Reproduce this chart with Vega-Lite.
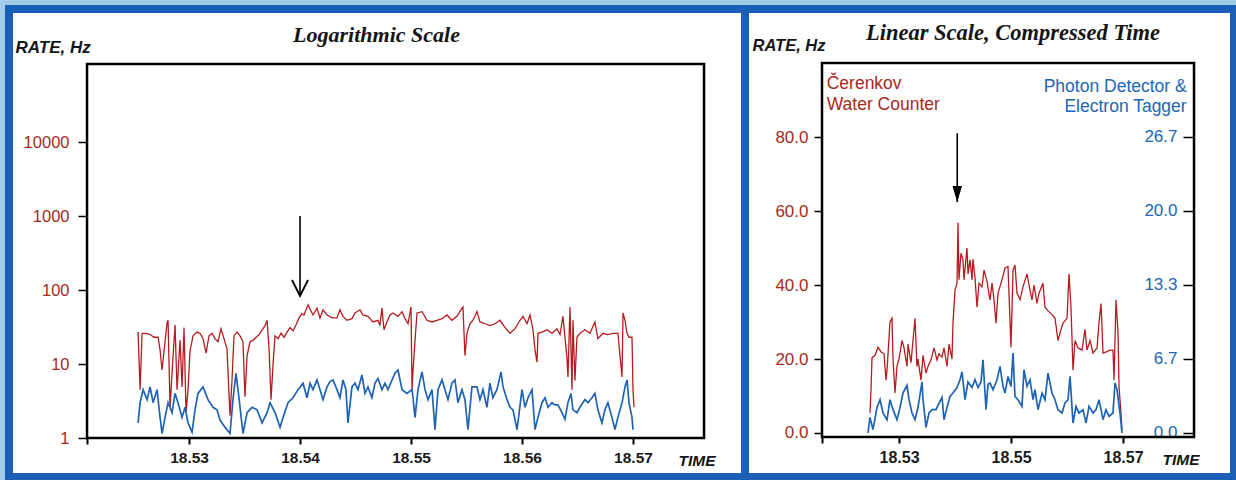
{
  "$schema": "https://vega.github.io/schema/vega-lite/v6.json",
  "background": "#a3cce7",
  "padding": {"left": 5, "top": 5, "right": 0, "bottom": 0},
  "spacing": 0,
  "bounds": "flush",
  "config": {
    "view": {"fill": "white", "stroke": "#1b5fb7", "strokeWidth": 8},
    "axis": {"domain": false, "grid": false, "tickColor": "black", "labelFont": "Liberation Sans", "titleFont": "Liberation Sans", "titleFontWeight": "bold", "titleFontStyle": "italic", "titleColor": "#151515", "titleAngle": 0, "labelFlush": false, "labelOverlap": false}
  },
  "datasets": {
    "frameL": [{"t1": 18.52081, "t2": 18.5764, "r1": 1, "r2": 113270}],
    "frameR": [{"t1": 18.51625, "t2": 18.58268, "v1": -1.08, "v2": 100}],
    "titleL": [{"t": 18.54689, "r": 224400, "label": "Logarithmic Scale"}],
    "titleR": [{"t": 18.55036, "v": 106.2, "label": "Linear Scale, Compressed Time"}],
    "arrowL": [{"t": 18.54, "top": 1000, "tip": 83}],
    "arrowR": [{"t": 18.5404, "top": 81, "tip": 62.4}],
    "legendRed": [{"t": 18.51709, "v": 93.0, "label": "Čerenkov"}, {"t": 18.51709, "v": 87.3, "label": "Water Counter"}],
    "legendBlue": [{"t": 18.58137, "v": 92.2, "label": "Photon Detector &"}, {"t": 18.58137, "v": 86.8, "label": "Electron Tagger"}],
    "redL": [
      {"t":18.52541,"rate":27},{"t":18.52559,"rate":4.5},{"t":18.52577,"rate":26},{"t":18.52613,"rate":26},{"t":18.52649,"rate":25},{"t":18.52685,"rate":23},{"t":18.52721,"rate":23},{"t":18.52739,"rate":15.5},{"t":18.52757,"rate":8.3},{"t":18.52775,"rate":15},{"t":18.52802,"rate":36},{"t":18.52811,"rate":39},{"t":18.52829,"rate":2.6},{"t":18.52847,"rate":7.5},{"t":18.52874,"rate":34},{"t":18.52892,"rate":4.5},{"t":18.52919,"rate":21},{"t":18.52937,"rate":4.9},{"t":18.52955,"rate":31},{"t":18.52973,"rate":2.2},{"t":18.52991,"rate":4.5},
      {"t":18.53009,"rate":15},{"t":18.53036,"rate":24},{"t":18.53072,"rate":27},{"t":18.53099,"rate":26},{"t":18.53126,"rate":22},{"t":18.53153,"rate":14},{"t":18.5318,"rate":24},{"t":18.53207,"rate":26},{"t":18.53234,"rate":22},{"t":18.53261,"rate":20},{"t":18.53288,"rate":30},{"t":18.53315,"rate":22},{"t":18.53342,"rate":16},{"t":18.53369,"rate":2.0},{"t":18.53387,"rate":6},{"t":18.53405,"rate":24},{"t":18.53432,"rate":27},{"t":18.53459,"rate":24},{"t":18.53486,"rate":20},{"t":18.53504,"rate":3.6},{"t":18.53523,"rate":13},{"t":18.5355,"rate":20},{"t":18.53577,"rate":21},{"t":18.53604,"rate":23},{"t":18.53631,"rate":25},{"t":18.53658,"rate":29},{"t":18.53685,"rate":33},{"t":18.53703,"rate":39},{"t":18.53721,"rate":16},{"t":18.53739,"rate":3.3},{"t":18.53757,"rate":10},{"t":18.53775,"rate":24},{"t":18.53802,"rate":22},{"t":18.53829,"rate":26},{"t":18.53856,"rate":23},{"t":18.53883,"rate":27},{"t":18.5391,"rate":31},{"t":18.53937,"rate":28},{"t":18.53964,"rate":34},{"t":18.53991,"rate":42},
      {"t":18.54018,"rate":48},{"t":18.54036,"rate":46},{"t":18.54072,"rate":63},{"t":18.54117,"rate":46},{"t":18.54153,"rate":57},{"t":18.5418,"rate":42},{"t":18.54207,"rate":54},{"t":18.54243,"rate":46},{"t":18.54288,"rate":42},{"t":18.54333,"rate":42},{"t":18.5436,"rate":54},{"t":18.54387,"rate":44},{"t":18.54423,"rate":39},{"t":18.54468,"rate":41},{"t":18.54495,"rate":49},{"t":18.5454,"rate":54},{"t":18.54567,"rate":46},{"t":18.54612,"rate":44},{"t":18.54657,"rate":37},{"t":18.54702,"rate":39},{"t":18.5472,"rate":33},{"t":18.54738,"rate":57},{"t":18.54756,"rate":29},{"t":18.54783,"rate":37},{"t":18.5481,"rate":46},{"t":18.54838,"rate":49},{"t":18.54883,"rate":44},{"t":18.54919,"rate":51},{"t":18.54946,"rate":41},{"t":18.54973,"rate":35},
      {"t":18.55,"rate":59},{"t":18.55009,"rate":4.5},{"t":18.55018,"rate":8},{"t":18.55036,"rate":21},{"t":18.55054,"rate":49},{"t":18.55099,"rate":51},{"t":18.55144,"rate":39},{"t":18.55189,"rate":37},{"t":18.55234,"rate":39},{"t":18.55279,"rate":41},{"t":18.55324,"rate":46},{"t":18.55369,"rate":39},{"t":18.55414,"rate":44},{"t":18.55459,"rate":57},{"t":18.55468,"rate":59},{"t":18.55486,"rate":13},{"t":18.55504,"rate":26},{"t":18.55531,"rate":35},{"t":18.55558,"rate":39},{"t":18.55594,"rate":51},{"t":18.55621,"rate":37},{"t":18.55666,"rate":35},{"t":18.55711,"rate":33},{"t":18.55756,"rate":35},{"t":18.55802,"rate":39},{"t":18.55847,"rate":31},{"t":18.55892,"rate":26},{"t":18.55937,"rate":30},{"t":18.55982,"rate":39},
      {"t":18.56009,"rate":44},{"t":18.56045,"rate":35},{"t":18.56072,"rate":46},{"t":18.56099,"rate":29},{"t":18.56117,"rate":15.5},{"t":18.56135,"rate":10.6},{"t":18.56144,"rate":26},{"t":18.5618,"rate":27},{"t":18.56225,"rate":29},{"t":18.5627,"rate":26},{"t":18.56315,"rate":30},{"t":18.56342,"rate":25},{"t":18.56369,"rate":44},{"t":18.56405,"rate":12},{"t":18.56414,"rate":6.7},{"t":18.56432,"rate":59},{"t":18.5645,"rate":4.5},{"t":18.56459,"rate":39},{"t":18.56477,"rate":6},{"t":18.56495,"rate":23},{"t":18.56522,"rate":26},{"t":18.56567,"rate":29},{"t":18.56612,"rate":26},{"t":18.56657,"rate":37},{"t":18.56684,"rate":22},{"t":18.56729,"rate":26},{"t":18.56774,"rate":25},{"t":18.56819,"rate":26},{"t":18.56864,"rate":26},{"t":18.56901,"rate":6.7},{"t":18.5691,"rate":49},{"t":18.56928,"rate":39},{"t":18.56946,"rate":26},{"t":18.56964,"rate":23},{"t":18.56991,"rate":23},{"t":18.57,"rate":4.5},{"t":18.57009,"rate":2.6}
    ],
    "blueL": [
      {"t":18.52541,"rate":1.6},{"t":18.52559,"rate":3.0},{"t":18.52586,"rate":4.5},{"t":18.52622,"rate":3.3},{"t":18.52649,"rate":4.9},{"t":18.52676,"rate":3.0},{"t":18.52712,"rate":4.5},{"t":18.52739,"rate":1.9},{"t":18.52757,"rate":1.15},{"t":18.52784,"rate":1.9},{"t":18.52811,"rate":3.0},{"t":18.52847,"rate":2.2},{"t":18.52874,"rate":4.0},{"t":18.52901,"rate":3.0},{"t":18.52937,"rate":1.9},{"t":18.52964,"rate":2.6},{"t":18.52991,"rate":1.6},
      {"t":18.53027,"rate":1.2},{"t":18.53054,"rate":2.4},{"t":18.53081,"rate":4.0},{"t":18.53126,"rate":4.9},{"t":18.53171,"rate":3.3},{"t":18.53216,"rate":2.6},{"t":18.53252,"rate":2.4},{"t":18.53279,"rate":1.75},{"t":18.53324,"rate":1.4},{"t":18.53369,"rate":1.15},{"t":18.53396,"rate":3.3},{"t":18.53423,"rate":7.5},{"t":18.5345,"rate":3.5},{"t":18.53486,"rate":1.15},{"t":18.53523,"rate":2.2},{"t":18.53568,"rate":2.6},{"t":18.53613,"rate":2.4},{"t":18.53658,"rate":1.6},{"t":18.53703,"rate":2.2},{"t":18.5373,"rate":3.0},{"t":18.53775,"rate":2.2},{"t":18.5382,"rate":1.4},{"t":18.53847,"rate":1.9},{"t":18.53892,"rate":3.0},{"t":18.53937,"rate":3.5},{"t":18.53982,"rate":4.5},
      {"t":18.54027,"rate":5.5},{"t":18.54063,"rate":3.5},{"t":18.5409,"rate":5.5},{"t":18.54117,"rate":4.5},{"t":18.54153,"rate":6.1},{"t":18.5418,"rate":4.5},{"t":18.54207,"rate":3.3},{"t":18.54243,"rate":4.9},{"t":18.5427,"rate":5.8},{"t":18.54297,"rate":6.1},{"t":18.54333,"rate":4.5},{"t":18.5436,"rate":3.5},{"t":18.54387,"rate":6.1},{"t":18.54414,"rate":4.5},{"t":18.54432,"rate":1.6},{"t":18.54468,"rate":4.9},{"t":18.54495,"rate":5.5},{"t":18.54522,"rate":4.5},{"t":18.54558,"rate":7.1},{"t":18.54585,"rate":4.0},{"t":18.54612,"rate":4.9},{"t":18.54648,"rate":3.5},{"t":18.54675,"rate":5.5},{"t":18.54702,"rate":6.4},{"t":18.54738,"rate":4.5},{"t":18.54765,"rate":5.5},{"t":18.54792,"rate":4.5},{"t":18.54829,"rate":6.1},{"t":18.54856,"rate":7.5},{"t":18.54883,"rate":8.3},{"t":18.54919,"rate":4.5},{"t":18.54964,"rate":4.0},
      {"t":18.55009,"rate":4.5},{"t":18.55018,"rate":3.5},{"t":18.55036,"rate":1.9},{"t":18.55063,"rate":4.5},{"t":18.55099,"rate":7.8},{"t":18.55126,"rate":4.5},{"t":18.55153,"rate":3.3},{"t":18.55189,"rate":4.5},{"t":18.55216,"rate":1.3},{"t":18.55243,"rate":4.5},{"t":18.55279,"rate":6.1},{"t":18.55306,"rate":4.5},{"t":18.55333,"rate":3.3},{"t":18.55369,"rate":5.5},{"t":18.55396,"rate":6.1},{"t":18.55423,"rate":3.0},{"t":18.55459,"rate":4.5},{"t":18.55486,"rate":3.3},{"t":18.55513,"rate":1.3},{"t":18.55549,"rate":4.9},{"t":18.55594,"rate":4.9},{"t":18.55621,"rate":3.3},{"t":18.55648,"rate":4.5},{"t":18.55684,"rate":2.6},{"t":18.55711,"rate":5.5},{"t":18.55738,"rate":3.5},{"t":18.55774,"rate":4.5},{"t":18.55811,"rate":7.8},{"t":18.55829,"rate":4.9},{"t":18.55865,"rate":3.3},{"t":18.55892,"rate":2.6},{"t":18.55919,"rate":2.4},{"t":18.55955,"rate":1.3},
      {"t":18.56,"rate":4.5},{"t":18.56027,"rate":2.6},{"t":18.56054,"rate":3.5},{"t":18.5609,"rate":4.5},{"t":18.56117,"rate":1.3},{"t":18.56144,"rate":1.9},{"t":18.5618,"rate":3.0},{"t":18.56207,"rate":3.5},{"t":18.56234,"rate":2.6},{"t":18.5627,"rate":3.0},{"t":18.56297,"rate":2.8},{"t":18.56324,"rate":2.8},{"t":18.5636,"rate":2.2},{"t":18.56387,"rate":1.8},{"t":18.56414,"rate":3.0},{"t":18.56441,"rate":4.0},{"t":18.56459,"rate":2.4},{"t":18.56495,"rate":2.2},{"t":18.56522,"rate":2.6},{"t":18.56567,"rate":3.3},{"t":18.56594,"rate":3.0},{"t":18.5663,"rate":3.5},{"t":18.56657,"rate":4.0},{"t":18.56684,"rate":2.4},{"t":18.5672,"rate":1.6},{"t":18.56747,"rate":2.4},{"t":18.56774,"rate":3.0},{"t":18.5681,"rate":1.9},{"t":18.56837,"rate":1.3},{"t":18.56864,"rate":1.9},{"t":18.56901,"rate":3.0},{"t":18.56928,"rate":4.9},{"t":18.56946,"rate":6.1},{"t":18.56964,"rate":3.0},{"t":18.56991,"rate":1.9},{"t":18.57,"rate":1.3}
    ],
    "redR": [
      {"t":18.52482,"v":5.4},{"t":18.525,"v":11.6},{"t":18.52518,"v":20.3},{"t":18.52571,"v":21},{"t":18.52625,"v":23.2},{"t":18.52679,"v":21.9},{"t":18.52732,"v":21.4},{"t":18.52768,"v":14.3},{"t":18.52786,"v":17},{"t":18.52839,"v":30},{"t":18.52875,"v":31},{"t":18.52893,"v":20},{"t":18.52929,"v":10.8},{"t":18.52964,"v":18},{"t":18.53,"v":20},{"t":18.53054,"v":25},{"t":18.53089,"v":23},{"t":18.53143,"v":18},{"t":18.53161,"v":24},{"t":18.53214,"v":19},{"t":18.5325,"v":25},{"t":18.53286,"v":31},{"t":18.53321,"v":18},{"t":18.53339,"v":20},{"t":18.53393,"v":14.3},{"t":18.53429,"v":21},{"t":18.53482,"v":16.2},{"t":18.53518,"v":18},{"t":18.53571,"v":19.7},{"t":18.53625,"v":23},{"t":18.53679,"v":19.7},{"t":18.53714,"v":21.4},{"t":18.53768,"v":20.5},{"t":18.53804,"v":23},{"t":18.53857,"v":18},{"t":18.53893,"v":24},{"t":18.53946,"v":20},{"t":18.53964,"v":29.7},
      {"t":18.54,"v":38.6},{"t":18.54036,"v":40.5},{"t":18.54054,"v":56.8},{"t":18.54071,"v":41.4},{"t":18.54107,"v":48.6},{"t":18.54143,"v":46.8},{"t":18.54161,"v":41.4},{"t":18.54214,"v":50},{"t":18.54232,"v":43},{"t":18.54268,"v":46.8},{"t":18.54304,"v":41.4},{"t":18.54321,"v":47},{"t":18.54357,"v":42},{"t":18.54393,"v":34},{"t":18.54429,"v":40.5},{"t":18.54482,"v":39.5},{"t":18.54518,"v":44},{"t":18.54571,"v":41},{"t":18.54625,"v":36},{"t":18.54661,"v":40.5},{"t":18.54696,"v":36},{"t":18.54732,"v":29.7},{"t":18.54768,"v":37.8},{"t":18.54839,"v":41.4},{"t":18.54893,"v":44.6},{"t":18.54946,"v":45},
      {"t":18.55,"v":23.2},{"t":18.55036,"v":44},{"t":18.55071,"v":45.4},{"t":18.55107,"v":37.8},{"t":18.55161,"v":36},{"t":18.55214,"v":39.5},{"t":18.55286,"v":43},{"t":18.55321,"v":40},{"t":18.55375,"v":36},{"t":18.55411,"v":40},{"t":18.55464,"v":35},{"t":18.555,"v":37.8},{"t":18.55571,"v":40.5},{"t":18.55607,"v":34},{"t":18.55661,"v":33},{"t":18.55732,"v":32},{"t":18.55786,"v":31},{"t":18.55839,"v":25},{"t":18.55893,"v":28},{"t":18.55929,"v":29.7},
      {"t":18.56,"v":31},{"t":18.56036,"v":43},{"t":18.56071,"v":34},{"t":18.56107,"v":17},{"t":18.56143,"v":25},{"t":18.56196,"v":23},{"t":18.56268,"v":22.4},{"t":18.56321,"v":28},{"t":18.56357,"v":22.4},{"t":18.56411,"v":25},{"t":18.56464,"v":21.6},{"t":18.56536,"v":23},{"t":18.56571,"v":29.7},{"t":18.56607,"v":35},{"t":18.56643,"v":21.6},{"t":18.56714,"v":22},{"t":18.56768,"v":22.4},{"t":18.56821,"v":22.4},{"t":18.56839,"v":14.3},{"t":18.56875,"v":36},{"t":18.56911,"v":27},{"t":18.56929,"v":12.4},{"t":18.56964,"v":5.4},{"t":18.56982,"v":0.8}
    ],
    "blueR": [
      {"t":18.52446,"v":0},{"t":18.52482,"v":1.4},{"t":18.52536,"v":0.3},{"t":18.52607,"v":2.3},{"t":18.52661,"v":3.0},{"t":18.52714,"v":1.8},{"t":18.52786,"v":1.2},{"t":18.52839,"v":3.0},{"t":18.52893,"v":2.1},{"t":18.52964,"v":1.2},{"t":18.53018,"v":2.3},{"t":18.53071,"v":3.6},{"t":18.53143,"v":4.3},{"t":18.53179,"v":3.0},{"t":18.53232,"v":1.8},{"t":18.53286,"v":1.2},{"t":18.53339,"v":2.3},{"t":18.53411,"v":4.6},{"t":18.53429,"v":3.0},{"t":18.53482,"v":0.5},{"t":18.53536,"v":1.8},{"t":18.53589,"v":2.1},{"t":18.53661,"v":2.1},{"t":18.53714,"v":2.7},{"t":18.53768,"v":3.2},{"t":18.53804,"v":1.2},{"t":18.53857,"v":2.3},{"t":18.53911,"v":3.3},{"t":18.53964,"v":3.6},
      {"t":18.54036,"v":4.1},{"t":18.54089,"v":4.8},{"t":18.54125,"v":5.5},{"t":18.54179,"v":3.0},{"t":18.54232,"v":4.6},{"t":18.54304,"v":4.1},{"t":18.54357,"v":4.8},{"t":18.54411,"v":4.1},{"t":18.54464,"v":4.6},{"t":18.545,"v":6.6},{"t":18.54554,"v":2.1},{"t":18.54589,"v":4.4},{"t":18.54625,"v":4.5},{"t":18.54679,"v":3.9},{"t":18.5475,"v":4.8},{"t":18.54804,"v":6.0},{"t":18.54857,"v":4.2},{"t":18.54893,"v":3.6},{"t":18.54946,"v":5.1},
      {"t":18.55,"v":4.2},{"t":18.55036,"v":7.2},{"t":18.55071,"v":3.3},{"t":18.55125,"v":3.0},{"t":18.55196,"v":2.4},{"t":18.55232,"v":5.7},{"t":18.55286,"v":4.2},{"t":18.55339,"v":4.8},{"t":18.55393,"v":3.0},{"t":18.55429,"v":3.9},{"t":18.55482,"v":2.1},{"t":18.55554,"v":3.6},{"t":18.55607,"v":3.0},{"t":18.55661,"v":5.4},{"t":18.55732,"v":3.6},{"t":18.55786,"v":3.0},{"t":18.55839,"v":2.1},{"t":18.55911,"v":1.8},{"t":18.55964,"v":2.7},
      {"t":18.56018,"v":3.0},{"t":18.56054,"v":5.1},{"t":18.56107,"v":0.9},{"t":18.56161,"v":2.4},{"t":18.56214,"v":1.8},{"t":18.56286,"v":2.1},{"t":18.56339,"v":0.9},{"t":18.56393,"v":2.4},{"t":18.56464,"v":1.8},{"t":18.56518,"v":2.1},{"t":18.56571,"v":3.0},{"t":18.56643,"v":1.2},{"t":18.56696,"v":2.1},{"t":18.5675,"v":1.5},{"t":18.56821,"v":1.8},{"t":18.56857,"v":4.5},{"t":18.56893,"v":3.9},{"t":18.56946,"v":1.8},{"t":18.56982,"v":0}
    ]
  },
  "hconcat": [
    {
      "width": 736,
      "height": 468,
      "layer": [
        {
          "data": {"name": "frameL"},
          "mark": {"type": "rect", "fillOpacity": 0, "stroke": "black", "strokeWidth": 2.5},
          "encoding": {
            "x": {"field": "t1", "type": "quantitative", "scale": {"domain": [18.51378, 18.58009], "nice": false, "zero": false},
              "axis": {"orient": "bottom", "offset": -39, "values": [18.52081, 18.53, 18.54, 18.55, 18.56, 18.57], "labelExpr": "datum.value < 18.525 ? '' : format(datum.value, '.2f')", "tickSize": 6, "tickWidth": 2, "labelFontSize": 15.5, "labelFontWeight": "bold", "labelColor": "#1a1a1a", "labelPadding": 6, "title": "TIME", "titleX": 669, "titleY": 27, "titleAlign": "left", "titleBaseline": "alphabetic", "titleFontSize": 15.5}},
            "x2": {"field": "t2"},
            "y": {"field": "r1", "type": "quantitative", "scale": {"type": "log", "domain": [0.2972, 627000], "nice": false},
              "axis": {"orient": "left", "offset": -78, "values": [1, 10, 100, 1000, 10000], "format": "d", "tickSize": 9, "tickWidth": 1.5, "labelPadding": 9, "labelFontSize": 16.5, "labelColor": "#a52a22", "title": "RATE, Hz", "titleX": -72, "titleY": 43, "titleAlign": "left", "titleBaseline": "alphabetic", "titleFontSize": 17}},
            "y2": {"field": "r2"}
          }
        },
        {
          "data": {"name": "titleL"},
          "mark": {"type": "text", "align": "center", "baseline": "alphabetic", "font": "Liberation Serif", "fontSize": 22, "fontStyle": "italic", "fontWeight": "bold", "color": "#151515"},
          "encoding": {
            "x": {"field": "t", "type": "quantitative"},
            "y": {"field": "r", "type": "quantitative"},
            "text": {"field": "label"}
          }
        },
        {
          "data": {"name": "redL"},
          "mark": {"type": "line", "color": "#b41c1f", "strokeWidth": 1.3},
          "encoding": {
            "x": {"field": "t", "type": "quantitative"},
            "y": {"field": "rate", "type": "quantitative"}
          }
        },
        {
          "data": {"name": "blueL"},
          "mark": {"type": "line", "color": "#1f63b3", "strokeWidth": 1.7},
          "encoding": {
            "x": {"field": "t", "type": "quantitative"},
            "y": {"field": "rate", "type": "quantitative"}
          }
        },
        {
          "data": {"name": "arrowL"},
          "mark": {"type": "rule", "color": "black", "strokeWidth": 1.6},
          "encoding": {
            "x": {"field": "t", "type": "quantitative"},
            "y": {"field": "top", "type": "quantitative"},
            "y2": {"field": "tip"}
          }
        },
        {
          "data": {"name": "arrowL"},
          "mark": {"type": "point", "shape": "M-0.5,-1L0,0L0.5,-1", "filled": false, "stroke": "black", "strokeWidth": 1.8, "size": 1024, "opacity": 1},
          "encoding": {
            "x": {"field": "t", "type": "quantitative"},
            "y": {"field": "tip", "type": "quantitative"}
          }
        }
      ]
    },
    {
      "width": 489,
      "height": 468,
      "layer": [
        {
          "layer": [
            {
              "data": {"name": "frameR"},
              "mark": {"type": "rect", "fillOpacity": 0, "stroke": "black", "strokeWidth": 2.5},
              "encoding": {
                "x": {"field": "t1", "type": "quantitative", "scale": {"domain": [18.5025, 18.58982], "nice": false, "zero": false},
                  "axis": {"orient": "bottom", "offset": -40, "values": [18.51625, 18.53, 18.55, 18.57], "labelExpr": "datum.value < 18.52 ? '' : format(datum.value, '.2f')", "tickSize": 6, "tickWidth": 2, "labelFontSize": 16, "labelFontWeight": "bold", "labelColor": "#1a1a1a", "labelPadding": 6, "title": "TIME", "titleX": 417, "titleY": 27, "titleAlign": "left", "titleBaseline": "alphabetic", "titleFontSize": 15.5}},
                "x2": {"field": "t2"},
                "y": {"field": "v1", "type": "quantitative", "scale": {"domain": [-11.892, 114.595], "nice": false, "zero": false},
                  "axis": {"orient": "left", "offset": -77, "values": [0, 20, 40, 60, 80], "format": ".1f", "tickSize": 8, "tickWidth": 1.5, "labelPadding": 6, "labelFontSize": 17, "labelColor": "#a52a22", "title": "RATE, Hz", "titleX": -70, "titleY": 41, "titleAlign": "left", "titleBaseline": "alphabetic", "titleFontSize": 16.5}},
                "y2": {"field": "v2"}
              }
            },
            {
              "data": {"name": "titleR"},
              "mark": {"type": "text", "align": "center", "baseline": "alphabetic", "font": "Liberation Serif", "fontSize": 22.5, "fontStyle": "italic", "fontWeight": "bold", "color": "#151515"},
              "encoding": {
                "x": {"field": "t", "type": "quantitative"},
                "y": {"field": "v", "type": "quantitative"},
                "text": {"field": "label"}
              }
            },
            {
              "data": {"name": "redR"},
              "mark": {"type": "line", "color": "#b41c1f", "strokeWidth": 1.3},
              "encoding": {
                "x": {"field": "t", "type": "quantitative"},
                "y": {"field": "v", "type": "quantitative"}
              }
            },
            {
              "data": {"name": "arrowR"},
              "mark": {"type": "rule", "color": "black", "strokeWidth": 1.6},
              "encoding": {
                "x": {"field": "t", "type": "quantitative"},
                "y": {"field": "top", "type": "quantitative"},
                "y2": {"field": "tip"}
              }
            },
            {
              "data": {"name": "arrowR"},
              "mark": {"type": "point", "shape": "M-0.3,-1L0,0L0.3,-1Z", "filled": true, "color": "black", "size": 1024, "opacity": 1},
              "encoding": {
                "x": {"field": "t", "type": "quantitative"},
                "y": {"field": "tip", "type": "quantitative"}
              }
            },
            {
              "data": {"name": "legendRed"},
              "mark": {"type": "text", "align": "left", "baseline": "alphabetic", "font": "Liberation Sans", "fontSize": 17.5, "color": "#a52a22"},
              "encoding": {
                "x": {"field": "t", "type": "quantitative"},
                "y": {"field": "v", "type": "quantitative"},
                "text": {"field": "label"}
              }
            },
            {
              "data": {"name": "legendBlue"},
              "mark": {"type": "text", "align": "right", "baseline": "alphabetic", "font": "Liberation Sans", "fontSize": 17.5, "color": "#2166b0"},
              "encoding": {
                "x": {"field": "t", "type": "quantitative"},
                "y": {"field": "v", "type": "quantitative"},
                "text": {"field": "label"}
              }
            }
          ]
        },
        {
          "data": {"name": "blueR"},
          "mark": {"type": "line", "color": "#1f63b3", "strokeWidth": 1.7},
          "encoding": {
            "x": {"field": "t", "type": "quantitative"},
            "y": {"field": "v", "type": "quantitative", "scale": {"domain": [-3.964, 38.198], "nice": false, "zero": false},
              "axis": {"orient": "left", "offset": -448, "values": [0, 6.66667, 13.33333, 20, 26.66667], "format": ".1f", "tickSize": 10, "tickWidth": 1.5, "labelPadding": 6, "labelFontSize": 17, "labelColor": "#2166b0", "title": null}}
          }
        }
      ],
      "resolve": {"scale": {"y": "independent"}, "axis": {"y": "independent"}}
    }
  ]
}
